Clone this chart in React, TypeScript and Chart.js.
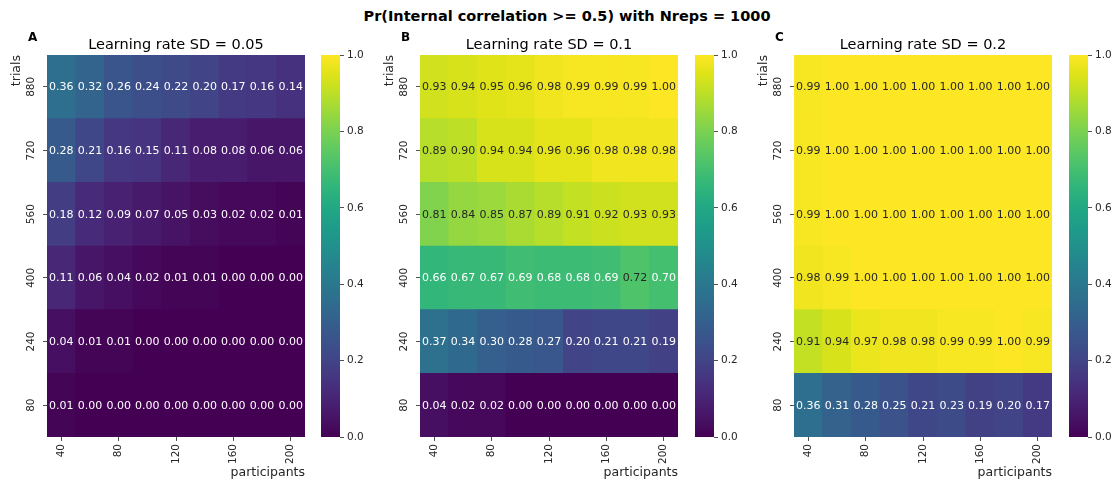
import React, { useEffect, useRef } from "react";
import { Chart, registerables } from "chart.js";
Chart.register(...registerables);

// ---------- data ----------
const participants = ["40", "60", "80", "100", "120", "140", "160", "180", "200"];
const trials = ["880", "720", "560", "400", "240", "80"]; // top to bottom
const colorbarTicks = [0, 0.2, 0.4, 0.6, 0.8, 1.0];
const panelTitles = ["Learning rate SD = 0.05", "Learning rate SD = 0.1", "Learning rate SD = 0.2"];
const panelLetters = ["A", "B", "C"];
const suptitle = "Pr(Internal correlation >= 0.5) with Nreps = 1000";

// Panel A: SD = 0.05 (rows = trials, top to bottom)
const a880 = [0.36, 0.32, 0.26, 0.24, 0.22, 0.2, 0.17, 0.16, 0.14];
const a720 = [0.28, 0.21, 0.16, 0.15, 0.11, 0.08, 0.08, 0.06, 0.06];
const a560 = [0.18, 0.12, 0.09, 0.07, 0.05, 0.03, 0.02, 0.02, 0.01];
const a400 = [0.11, 0.06, 0.04, 0.02, 0.01, 0.01, 0.0, 0.0, 0.0];
const a240 = [0.04, 0.01, 0.01, 0.0, 0.0, 0.0, 0.0, 0.0, 0.0];
const a80 = [0.01, 0.0, 0.0, 0.0, 0.0, 0.0, 0.0, 0.0, 0.0];

// Panel B: SD = 0.1
const b880 = [0.93, 0.94, 0.95, 0.96, 0.98, 0.99, 0.99, 0.99, 1.0];
const b720 = [0.89, 0.9, 0.94, 0.94, 0.96, 0.96, 0.98, 0.98, 0.98];
const b560 = [0.81, 0.84, 0.85, 0.87, 0.89, 0.91, 0.92, 0.93, 0.93];
const b400 = [0.66, 0.67, 0.67, 0.69, 0.68, 0.68, 0.69, 0.72, 0.7];
const b240 = [0.37, 0.34, 0.3, 0.28, 0.27, 0.2, 0.21, 0.21, 0.19];
const b80 = [0.04, 0.02, 0.02, 0.0, 0.0, 0.0, 0.0, 0.0, 0.0];

// Panel C: SD = 0.2
const c880 = [0.99, 1.0, 1.0, 1.0, 1.0, 1.0, 1.0, 1.0, 1.0];
const c720 = [0.99, 1.0, 1.0, 1.0, 1.0, 1.0, 1.0, 1.0, 1.0];
const c560 = [0.99, 1.0, 1.0, 1.0, 1.0, 1.0, 1.0, 1.0, 1.0];
const c400 = [0.98, 0.99, 1.0, 1.0, 1.0, 1.0, 1.0, 1.0, 1.0];
const c240 = [0.91, 0.94, 0.97, 0.98, 0.98, 0.99, 0.99, 1.0, 0.99];
const c80 = [0.36, 0.31, 0.28, 0.25, 0.21, 0.23, 0.19, 0.2, 0.17];

const panelA = [a880, a720, a560, a400, a240, a80];
const panelB = [b880, b720, b560, b400, b240, b80];
const panelC = [c880, c720, c560, c400, c240, c80];

// ---------- colormap ----------
const VIRIDIS = [
  "#440154", "#471365", "#482475", "#463480", "#414487", "#3b528b", "#355f8d",
  "#2f6c8e", "#2a788e", "#25848e", "#21918c", "#1e9c89", "#22a884", "#2fb47c",
  "#44bf70", "#5ec962", "#7ad151", "#9bd93c", "#bddf26", "#dfe318", "#fde725",
];
const hexToRgb = (h: string) => [parseInt(h.slice(1, 3), 16), parseInt(h.slice(3, 5), 16), parseInt(h.slice(5, 7), 16)];
const VIR_RGB = VIRIDIS.map(hexToRgb);
function viridisRgb(t: number) {
  const c = Math.max(0, Math.min(1, t)) * (VIR_RGB.length - 1);
  const i = Math.min(VIR_RGB.length - 2, Math.floor(c));
  const f = c - i;
  const a = VIR_RGB[i], b = VIR_RGB[i + 1];
  return [0, 1, 2].map((k) => a[k] + (b[k] - a[k]) * f);
}
function viridis(t: number) {
  const [r, g, b] = viridisRgb(t);
  return `rgb(${Math.round(r)},${Math.round(g)},${Math.round(b)})`;
}
function textColorFor(t: number) {
  const lin = (v: number) => {
    const s = v / 255;
    return s <= 0.03928 ? s / 12.92 : Math.pow((s + 0.055) / 1.055, 2.4);
  };
  const [r, g, b] = viridisRgb(t);
  const lum = 0.2126 * lin(r) + 0.7152 * lin(g) + 0.0722 * lin(b);
  return lum > 0.408 ? "#262626" : "#ffffff";
}

// ---------- layout ----------
const FONT = "'DejaVu Sans', 'Liberation Sans', sans-serif";
const INK = "#262626";
const H = 481;
const HM_W = 320;
const LEFT = 47;
const RIGHT = 305;
const TOP = 55;
const BOTTOM = 437;
const CB_W = 60;
const CB_AXIS = 36;

function Heatmap({ rows, title, letter, left }: { rows: number[][]; title: string; letter: string; left: number }) {
  const ref = useRef<HTMLCanvasElement>(null);
  useEffect(() => {
    if (!ref.current) return;
    const bottomFirst = rows.slice().reverse();
    const textPlugin = {
      id: "heatText",
      afterDatasetsDraw(chart: any) {
        const ctx = chart.ctx;
        ctx.save();
        ctx.font = `11px ${FONT}`;
        ctx.textAlign = "center";
        ctx.textBaseline = "middle";
        chart.data.datasets.forEach((ds: any, di: number) => {
          const meta = chart.getDatasetMeta(di);
          meta.data.forEach((el: any, j: number) => {
            const v = bottomFirst[di][j];
            const p = el.getProps(["x", "y", "base"], true);
            ctx.fillStyle = textColorFor(v);
            ctx.fillText(v.toFixed(2), p.x, (p.y + p.base) / 2 + 0.5);
          });
        });
        ctx.restore();
      },
      afterDraw(chart: any) {
        const ctx = chart.ctx;
        const ca = chart.chartArea;
        const ys = chart.scales.y;
        ctx.save();
        ctx.fillStyle = "#000";
        // panel letter
        ctx.font = `bold 12px ${FONT}`;
        ctx.textAlign = "left";
        ctx.textBaseline = "middle";
        ctx.fillText(letter, 28, 37.5);
        // subtitle
        ctx.font = `14.5px ${FONT}`;
        ctx.textAlign = "center";
        ctx.fillText(title, (ca.left + ca.right) / 2, 45);
        // y tick labels (rotated)
        ctx.fillStyle = INK;
        ctx.font = `10.5px ${FONT}`;
        trials.forEach((t, i) => {
          const y = ys.getPixelForValue(trials.length - 1 - i + 0.5);
          ctx.save();
          ctx.translate(ca.left - 15.5, y);
          ctx.rotate(-Math.PI / 2);
          ctx.textAlign = "center";
          ctx.textBaseline = "middle";
          ctx.fillText(t, 0, 0);
          ctx.restore();
        });
        // y axis label
        ctx.font = `12.5px ${FONT}`;
        ctx.save();
        ctx.translate(17, ca.top);
        ctx.rotate(-Math.PI / 2);
        ctx.textAlign = "right";
        ctx.textBaseline = "middle";
        ctx.fillText("trials", 0, 0);
        ctx.restore();
        // x axis label
        ctx.textAlign = "right";
        ctx.textBaseline = "middle";
        ctx.fillText("participants", ca.right, 473);
        ctx.restore();
      },
    };
    const chart = new Chart(ref.current, {
      type: "bar",
      data: {
        labels: participants,
        datasets: bottomFirst.map((row, k) => ({
          label: trials[trials.length - 1 - k],
          data: row.map(() => 1),
          backgroundColor: row.map((v) => viridis(v)),
          borderWidth: 0,
          barPercentage: 1,
          categoryPercentage: 1,
        })),
      },
      options: {
        animation: false,
        responsive: false,
        events: [],
        layout: { padding: { left: 0, right: HM_W - RIGHT, top: TOP, bottom: 0 } },
        plugins: { legend: { display: false }, tooltip: { enabled: false }, title: { display: false } },
        scales: {
          x: {
            type: "category",
            stacked: true,
            offset: true,
            grid: { offset: false, drawOnChartArea: false, drawTicks: true, tickLength: 4, color: INK, lineWidth: 0.8 },
            border: { display: false },
            ticks: {
              autoSkip: false,
              minRotation: 90,
              maxRotation: 90,
              padding: 3,
              color: INK,
              font: { family: FONT, size: 10.5 },
            },
            afterBuildTicks: (s: any) => {
              s.ticks = s.ticks.filter((t: any) => t.value % 2 === 0);
            },
            afterFit: (s: any) => {
              s.height = H - BOTTOM;
            },
          },
          y: {
            type: "linear",
            stacked: true,
            min: 0,
            max: trials.length,
            grid: { drawOnChartArea: false, drawTicks: true, tickLength: 4, color: INK, lineWidth: 0.8 },
            border: { display: false },
            ticks: { color: "rgba(0,0,0,0)", font: { family: FONT, size: 10.5 } },
            afterBuildTicks: (s: any) => {
              s.ticks = trials.map((_, i) => ({ value: i + 0.5 }));
            },
            afterFit: (s: any) => {
              s.width = LEFT;
            },
          },
        },
      } as any,
      plugins: [textPlugin],
    });
    return () => chart.destroy();
  }, [rows, title, letter]);
  return (
    <canvas
      ref={ref}
      width={HM_W}
      height={H}
      style={{ position: "absolute", left, top: 0, width: HM_W, height: H }}
    />
  );
}

function Colorbar({ left }: { left: number }) {
  const ref = useRef<HTMLCanvasElement>(null);
  useEffect(() => {
    if (!ref.current) return;
    const chart = new Chart(ref.current, {
      type: "bar",
      data: {
        labels: [""],
        datasets: [
          {
            data: [[colorbarTicks[0], colorbarTicks[colorbarTicks.length - 1]]],
            backgroundColor: (c: any) => {
              const ca = c.chart.chartArea;
              if (!ca) return viridis(0.5);
              const g = c.chart.ctx.createLinearGradient(0, ca.bottom, 0, ca.top);
              VIRIDIS.forEach((col, i) => g.addColorStop(i / (VIRIDIS.length - 1), col));
              return g;
            },
            borderWidth: 0,
            barPercentage: 1,
            categoryPercentage: 1,
          },
        ],
      },
      options: {
        animation: false,
        responsive: false,
        events: [],
        layout: { padding: { left: 5, right: 0, top: TOP, bottom: H - BOTTOM } },
        plugins: { legend: { display: false }, tooltip: { enabled: false } },
        scales: {
          x: { display: false },
          y: {
            position: "right",
            min: 0,
            max: 1,
            grid: { drawOnChartArea: false, drawTicks: true, tickLength: 4, color: INK, lineWidth: 0.8 },
            border: { display: false },
            ticks: {
              color: INK,
              padding: 3,
              font: { family: FONT, size: 10.5 },
              callback: (v: any) => Number(v).toFixed(1),
            },
            afterBuildTicks: (s: any) => {
              s.ticks = colorbarTicks.map((v) => ({ value: v }));
            },
            afterFit: (s: any) => {
              s.width = CB_AXIS;
            },
          },
        },
      } as any,
    });
    return () => chart.destroy();
  }, []);
  return (
    <canvas
      ref={ref}
      width={CB_W}
      height={H}
      style={{ position: "absolute", left, top: 0, width: CB_W, height: H }}
    />
  );
}

export default function App() {
  useEffect(() => {
    document.body.style.margin = "0";
  }, []);
  const panels = [panelA, panelB, panelC];
  const offsets = [0, 373, 747];
  const cbLefts = [316, 690, 1064];
  return (
    <div style={{ position: "relative", width: 1117, height: H, background: "#fff", overflow: "hidden" }}>
      <div
        style={{
          position: "absolute",
          left: 567,
          top: 8,
          transform: "translateX(-50%)",
          whiteSpace: "nowrap",
          fontFamily: FONT,
          fontWeight: "bold",
          fontSize: "14.5px",
          lineHeight: "17px",
          color: "#000",
        }}
      >
        {suptitle}
      </div>
      {panels.map((rows, i) => (
        <Heatmap key={"h" + i} rows={rows} title={panelTitles[i]} letter={panelLetters[i]} left={offsets[i]} />
      ))}
      {cbLefts.map((l, i) => (
        <Colorbar key={"c" + i} left={l} />
      ))}
    </div>
  );
}
